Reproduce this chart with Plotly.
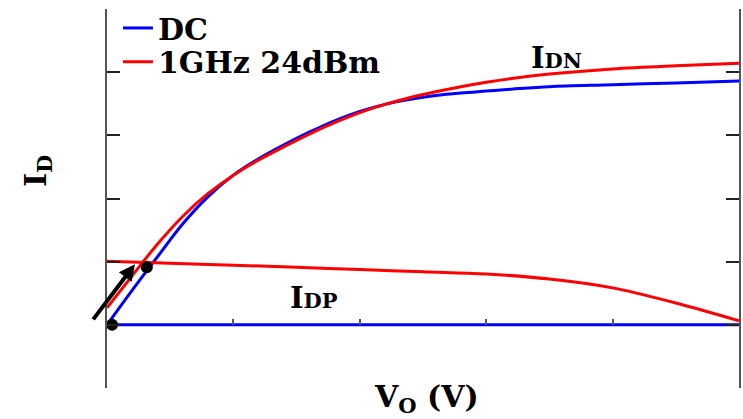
import plotly.graph_objects as go

# Output voltage axis (arbitrary units) and drain currents
vo_n = [0, 0.2, 0.4, 0.6, 0.8, 1.0, 1.2, 1.4, 1.6, 1.8, 2.0, 2.2, 2.4, 2.6, 2.8, 3.0, 3.2, 3.5, 4.0, 4.5, 5.0]
idn_dc = [0, 0.55, 1.08, 1.60, 2.03, 2.37, 2.63, 2.85, 3.05, 3.23, 3.38, 3.49, 3.57, 3.63, 3.67, 3.70, 3.73, 3.77, 3.80, 3.83, 3.86]
idn_rf = [0.27, 0.78, 1.28, 1.72, 2.08, 2.37, 2.61, 2.82, 3.02, 3.20, 3.36, 3.49, 3.60, 3.69, 3.77, 3.84, 3.90, 3.97, 4.05, 4.10, 4.14]

vo_p = [0, 0.5, 1.0, 1.5, 2.0, 2.5, 3.0, 3.5, 4.0, 4.5, 5.0]
idp_dc = [0, 0, 0, 0, 0, 0, 0, 0, 0, 0, 0]
idp_rf = [1.008, 0.975, 0.945, 0.91, 0.875, 0.84, 0.805, 0.725, 0.585, 0.345, 0.063]

# Operating points and the path between them
op_x = [0.04, 0.315]
op_y = [0, 0.913]
arrow_from = (-0.118, 0.063)
arrow_to = (0.221, 0.96)

series_names = ["DC", "1GHz 24dBm"]
BLUE = "#0000FF"
RED = "#FF0000"
FONT = "DejaVu Serif"

fig = go.Figure()
fig.add_trace(go.Scatter(x=vo_n, y=idn_dc, mode="lines", name=series_names[0], legend="legend",
                         line=dict(color=BLUE, width=3, shape="spline")))
fig.add_trace(go.Scatter(x=vo_n, y=idn_rf, mode="lines", name=series_names[1], legend="legend2",
                         line=dict(color=RED, width=3, shape="spline")))
fig.add_trace(go.Scatter(x=vo_p, y=idp_dc, mode="lines", showlegend=False,
                         line=dict(color=BLUE, width=3)))
fig.add_trace(go.Scatter(x=vo_p, y=idp_rf, mode="lines", showlegend=False,
                         line=dict(color=RED, width=3, shape="spline")))
fig.add_trace(go.Scatter(x=op_x, y=op_y, mode="markers", showlegend=False,
                         marker=dict(color="black", size=12), cliponaxis=False))

fig.add_annotation(x=arrow_to[0], y=arrow_to[1], ax=arrow_from[0], ay=arrow_from[1],
                   xref="x", yref="y", axref="x", ayref="y", text="",
                   showarrow=True, arrowhead=2, arrowsize=0.8, arrowwidth=4,
                   arrowcolor="black", standoff=0)

fig.add_annotation(x=3.557, y=4.22, xref="x", yref="y", showarrow=False,
                   text="I<span style='font-size:21px'>DN</span>",
                   font=dict(family=FONT, size=29, color="black", weight="bold"))
fig.add_annotation(x=1.64, y=0.425, xref="x", yref="y", showarrow=False,
                   text="I<span style='font-size:21px'>DP</span>",
                   font=dict(family=FONT, size=29, color="black", weight="bold"))

fig.add_annotation(x=0.505, y=-0.029, xref="paper", yref="paper", showarrow=False,
                   text="V<sub>O</sub> (V)", yanchor="middle",
                   font=dict(family=FONT, size=30, color="black", weight="bold"))
fig.add_annotation(x=-0.145, y=0.572, xref="paper", yref="paper", showarrow=False,
                   text="I<sub>D</sub>", textangle=-90,
                   font=dict(family=FONT, size=30, color="black", weight="bold"))

legend_font = dict(family=FONT, size=30, color="black", weight="bold")
fig.update_layout(
    width=743, height=419,
    margin=dict(l=107, r=2, t=7, b=31),
    plot_bgcolor="white", paper_bgcolor="white",
    legend=dict(x=0.0173, y=0.950, xanchor="left", yanchor="middle",
                bgcolor="rgba(0,0,0,0)", font=legend_font),
    legend2=dict(x=0.0173, y=0.861, xanchor="left", yanchor="middle",
                 bgcolor="rgba(0,0,0,0)", font=legend_font),
    xaxis=dict(range=[0, 5], dtick=1, anchor="free", position=1 / 6,
               showline=False, showgrid=False, zeroline=False,
               ticks="inside", ticklen=6, tickwidth=1.5, tickcolor="#555",
               showticklabels=False),
    yaxis=dict(range=[-1, 5], dtick=1, showline=True, linecolor="#555", linewidth=1.5,
               mirror="ticks", showgrid=False, zeroline=False,
               ticks="inside", ticklen=13, tickwidth=1.5, tickcolor="#222",
               showticklabels=False),
)

fig.write_html("out.html")
